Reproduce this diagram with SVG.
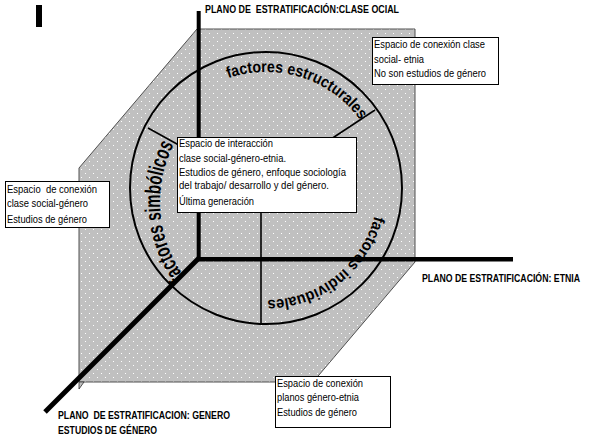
<svg xmlns="http://www.w3.org/2000/svg" width="592" height="446" viewBox="0 0 592 446">
<defs>
<pattern id="dots" width="8" height="8" patternUnits="userSpaceOnUse">
<rect width="8" height="8" fill="#c0c0c0"/>
<rect x="1" y="1" width="1" height="1" fill="#ffffff"/>
<rect x="5" y="5" width="1" height="1" fill="#ffffff"/>
</pattern>
<path id="arcTop" d="M228.2,78.3 A116,116 0 0 1 375.0,227.7"/>
<path id="arcLeft" d="M184.3,276.6 A127,127 0 0 1 189.7,120.4"/>
<path id="arcRight" d="M374.4,216.0 A112,112 0 0 1 268.0,300.0 A112,112 0 0 1 200,280"/>
</defs>
<style>
.box{fill:#ffffff;stroke:#000000;stroke-width:1}
.t{font-family:"Liberation Sans",Arial,sans-serif;font-size:11px;fill:#000000}
.lbl{font-family:"Liberation Sans",Arial,sans-serif;font-size:11px;font-weight:bold;fill:#000000}
.arc{font-family:"Liberation Sans",Arial,sans-serif;font-size:16px;font-weight:bold;fill:#000000}
.arcbig{font-family:"Liberation Sans",Arial,sans-serif;font-size:22px;font-weight:bold;fill:#000000}
.axis{stroke:#000000;fill:none}
.thin{stroke:#000000;stroke-width:1.6;fill:none}
</style>

<g id="mark">
<rect x="36" y="5" width="6" height="22" fill="#000000"/>
</g>

<g id="plane">
<polygon points="197,29 415,29 415,262 313,382 79,382 79,168" fill="url(#dots)" stroke="#505050" stroke-width="1"/>
<polygon points="79,382 84,382 79,389" fill="#c0c0c0" stroke="#303030" stroke-width="0.8"/>
</g>

<g id="circle">
<circle cx="266" cy="188" r="136" fill="none" stroke="#000000" stroke-width="2"/>
</g>

<g id="arc-labels">
<text class="arc"><textPath href="#arcTop" textLength="148" lengthAdjust="spacingAndGlyphs">factores estructurales</textPath></text>
<text class="arcbig"><textPath href="#arcLeft" textLength="139" lengthAdjust="spacingAndGlyphs">factores simbólicos</textPath></text>
<text class="arc"><textPath href="#arcRight" textLength="146" lengthAdjust="spacingAndGlyphs">factores individuales</textPath></text>
</g>

<g id="connectors">
<line class="thin" x1="375" y1="110" x2="322" y2="145"/>
<line class="thin" x1="148" y1="128" x2="186" y2="149"/>
<line class="thin" x1="261" y1="212" x2="261" y2="325"/>
<line class="axis" x1="198.7" y1="11" x2="198.7" y2="259" stroke-width="4"/>
<line class="axis" x1="197" y1="259.2" x2="513" y2="259.2" stroke-width="4.6"/>
<line class="axis" x1="199" y1="258" x2="45" y2="412" stroke-width="5"/>
</g>

<g id="box-interaccion">
<rect class="box" x="177.5" y="137.5" width="179" height="75"/>
<text class="t" x="179" y="147" textLength="94" lengthAdjust="spacingAndGlyphs">Espacio de interacción</text>
<text class="t" x="179" y="161.5" textLength="107" lengthAdjust="spacingAndGlyphs">clase social-género-etnia.</text>
<text class="t" x="179" y="175.5" textLength="167" lengthAdjust="spacingAndGlyphs">Estudios de género, enfoque sociología</text>
<text class="t" x="179" y="189" textLength="150" lengthAdjust="spacingAndGlyphs">del trabajo/ desarrollo y del género.</text>
<text class="t" x="179" y="204.5" textLength="75" lengthAdjust="spacingAndGlyphs">Última generación</text>
</g>

<g id="box-clase-etnia">
<rect class="box" x="372.5" y="37.5" width="126" height="47"/>
<text class="t" x="374" y="48" textLength="111" lengthAdjust="spacingAndGlyphs">Espacio de conexión clase</text>
<text class="t" x="374" y="62.5" textLength="50" lengthAdjust="spacingAndGlyphs">social- etnia</text>
<text class="t" x="374" y="77" textLength="112" lengthAdjust="spacingAndGlyphs">No son estudios de género</text>
</g>

<g id="box-clase-genero">
<rect class="box" x="5.5" y="181.5" width="104" height="46"/>
<text class="t" x="7" y="192.5" textLength="90" lengthAdjust="spacingAndGlyphs" xml:space="preserve">Espacio  de conexión</text>
<text class="t" x="7" y="207" textLength="81" lengthAdjust="spacingAndGlyphs">clase social-género</text>
<text class="t" x="7" y="223" textLength="80" lengthAdjust="spacingAndGlyphs">Estudios de género</text>
</g>

<g id="box-genero-etnia">
<rect class="box" x="275.5" y="376.5" width="115" height="51"/>
<text class="t" x="277" y="387" textLength="86" lengthAdjust="spacingAndGlyphs">Espacio de conexión</text>
<text class="t" x="277" y="401" textLength="82" lengthAdjust="spacingAndGlyphs">planos género-etnia</text>
<text class="t" x="277" y="415.5" textLength="80" lengthAdjust="spacingAndGlyphs">Estudios de género</text>
</g>

<g id="label-clase">
<text class="lbl" x="205" y="12.5" textLength="194" lengthAdjust="spacingAndGlyphs" xml:space="preserve">PLANO DE  ESTRATIFICACIÓN:CLASE OCIAL</text>
</g>
<g id="label-etnia">
<text class="lbl" x="422" y="282" textLength="158" lengthAdjust="spacingAndGlyphs">PLANO DE ESTRATIFICACIÓN: ETNIA</text>
</g>
<g id="label-genero">
<text class="lbl" x="58" y="419" textLength="172" lengthAdjust="spacingAndGlyphs" xml:space="preserve">PLANO  DE ESTRATIFICACION: GENERO</text>
<text class="lbl" x="58" y="433.5" textLength="99" lengthAdjust="spacingAndGlyphs">ESTUDIOS DE GÉNERO</text>
</g>
</svg>
